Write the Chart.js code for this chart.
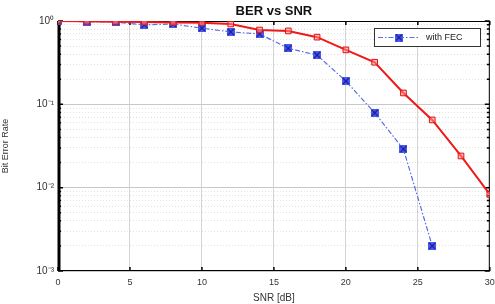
<!DOCTYPE html>
<html>
<head>
<meta charset="utf-8">
<script src="https://cdn.jsdelivr.net/npm/chart.js@4"></script>
<style>
  html, body { margin: 0; padding: 0; background: #fff; }
  #wrap { width: 495px; height: 304px; }
</style>
</head>
<body>
<div id="wrap"><canvas id="berChart"></canvas></div>
<script>
// data
var chartTitle = 'BER vs SNR';
var snrValues = [0, 2, 4, 6, 8, 10, 12, 14, 16, 18, 20, 22, 24, 26, 28, 30];
var berNoFec = [1.0, 0.99, 0.98, 0.97, 0.96, 0.95, 0.92, 0.78, 0.76, 0.64, 0.45, 0.32, 0.137, 0.065, 0.024, 0.0083];
var berFec = [1.0, 0.98, 0.97, 0.9, 0.92, 0.82, 0.74, 0.70, 0.47, 0.39, 0.19, 0.079, 0.029, 0.002, null, null];
var xTicks = [0, 5, 10, 15, 20, 25, 30];
var yDecades = [-3, -2, -1, 0];

var sup = {'-': '\u207B', '0': '\u2070', '1': '\u00B9', '2': '\u00B2', '3': '\u00B3'};
toSup = (n) => String(n).split('').map(c => sup[c]).join('');
var fontFam = '"Liberation Sans", Arial, sans-serif';

//point icon for the blue series: square with an x
var fecIcon = document.createElement('canvas');
fecIcon.width = 8; fecIcon.height = 8;
var ic = fecIcon.getContext('2d');
ic.fillStyle = '#4a5cf0';
ic.fillRect(0, 0, 8, 8);
ic.strokeStyle = '#1a1a9a';
ic.lineWidth = 1.2;
ic.beginPath();
ic.moveTo(1, 1); ic.lineTo(7, 7);
ic.moveTo(7, 1); ic.lineTo(1, 7);
ic.stroke();

function pts(arr) {
  var out = [];
  for (var i = 0; i < snrValues.length; i++) {
    if (arr[i] != null) out.push({x: snrValues[i], y: arr[i]});
  }
  return out;
}

var isDecade = (v) => Math.abs(Math.log10(v) - Math.round(Math.log10(v))) < 1e-6;

// frame + inward ticks under the lines, title + legend box on top
var framePlugin = {
  id: 'frame',
  beforeDatasetsDraw(chart) {
    var a = chart.chartArea, c = chart.ctx;
    var xs = chart.scales.x, ys = chart.scales.y;
    c.save();
    c.strokeStyle = '#000';
    c.lineWidth = 1;
    c.strokeRect(a.left + 0.5, a.top + 0.5, a.right - a.left - 1, a.bottom - a.top - 1);
    c.lineWidth = 3;
    c.beginPath();
    c.moveTo(a.left + 1, a.top); c.lineTo(a.left + 1, a.bottom);
    c.stroke();
    c.lineWidth = 1.5;
    c.beginPath();
    xTicks.forEach(t => {
      var px = xs.getPixelForValue(t);
      c.moveTo(px, a.bottom); c.lineTo(px, a.bottom - 4);
      c.moveTo(px, a.top); c.lineTo(px, a.top + 4);
    });
    ys.ticks.forEach(t => {
      var py = ys.getPixelForValue(t.value);
      var len = isDecade(t.value) ? 5 : 3;
      c.moveTo(a.left, py); c.lineTo(a.left + len, py);
      c.moveTo(a.right, py); c.lineTo(a.right - len, py);
    });
    c.stroke();
    c.restore();
  },
  afterDraw(chart) {
    var a = chart.chartArea, c = chart.ctx;
    c.save();
    // title centred over the plot area
    c.fillStyle = '#111';
    c.font = 'bold 13px ' + fontFam;
    c.textAlign = 'center';
    c.textBaseline = 'middle';
    c.fillText(chartTitle, (a.left + a.right) / 2, a.top - 10);

    // legend inside the plot, top right
    var ds = chart.data.datasets[1];
    var bx = 374, by = 28, bw = 106, bh = 18;
    c.fillStyle = '#fff';
    c.fillRect(bx, by, bw, bh);
    c.strokeStyle = '#333';
    c.lineWidth = 1;
    c.strokeRect(bx + 0.5, by + 0.5, bw, bh);
    c.strokeStyle = ds.borderColor;
    c.setLineDash(ds.borderDash);
    c.beginPath();
    c.moveTo(bx + 4, by + bh / 2 + 0.5); c.lineTo(bx + 46, by + bh / 2 + 0.5);
    c.stroke();
    c.setLineDash([]);
    c.drawImage(fecIcon, bx + 21, by + bh / 2 - 3.5);
    c.fillStyle = '#222';
    c.font = '9px ' + fontFam;
    c.textAlign = 'left';
    c.fillText(ds.label, bx + 52, by + bh / 2 + 1);
    c.restore();
  }
};

var ctx = document.getElementById('berChart').getContext('2d');
var berChart = new Chart(ctx, {
  type: 'line',
  data: {
    datasets: [{
      label: 'without FEC',
      data: pts(berNoFec),
      borderColor: '#f01818',
      borderWidth: 2,
      backgroundColor: 'rgba(255,140,140,0.55)',
      pointStyle: 'rect',
      pointRadius: 4,
      pointBorderWidth: 1,
      pointBorderColor: '#e01010',
      tension: 0
    }, {
      label: 'with FEC',
      data: pts(berFec),
      borderColor: '#5a6ee0',
      borderWidth: 1.2,
      borderDash: [5, 2, 1.5, 2],
      backgroundColor: '#4a5cf0',
      pointStyle: fecIcon,
      tension: 0
    }]
  },
  options: {
    responsive: true,
    maintainAspectRatio: false,
    animation: false,
    devicePixelRatio: 1,
    layout: { padding: { left: 0, right: 4, top: 21, bottom: 0 } },
    plugins: {
      legend: { display: false },
      tooltip: { enabled: false },
      title: { display: false }
    },
    scales: {
      x: {
        type: 'linear',
        min: 0,
        max: 30,
        afterBuildTicks: (scale) => { scale.ticks = xTicks.map(v => ({value: v})); },
        afterFit: (scale) => {
          scale.height = 33;
          scale.paddingLeft = 0;
          scale.paddingRight = 0;
        },
        ticks: {
          color: '#333',
          padding: 6,
          maxRotation: 0,
          font: { family: fontFam, size: 9 }
        },
        grid: { color: '#d4d4d4', tickLength: 0, lineWidth: 1 },
        border: { display: false },
        title: {
          display: true,
          text: 'SNR [dB]',
          color: '#333',
          padding: { top: 1, bottom: 0 },
          font: { family: fontFam, size: 10 }
        }
      },
      y: {
        type: 'logarithmic',
        min: 0.001,
        max: 1,
        afterBuildTicks: (scale) => {
          var t = [];
          yDecades.forEach(d => {
            for (var m = 1; m <= 9; m++) {
              if (d === 0 && m > 1) break;
              t.push({value: m * Math.pow(10, d)});
            }
          });
          scale.ticks = t;
        },
        afterFit: (scale) => {
          scale.width = 58;
          scale.paddingTop = 0;
          scale.paddingBottom = 0;
        },
        ticks: {
          autoSkip: false,
          color: '#333',
          padding: 4,
          font: { family: fontFam, size: 10 },
          callback: (v) => isDecade(v) ? '10' + toSup(Math.round(Math.log10(v))) : ''
        },
        grid: {
          tickLength: 0,
          lineWidth: 1,
          color: (c) => (c.tick && isDecade(c.tick.value)) ? '#c8c8c8' : '#e2e2e2'
        },
        border: {
          display: false,
          dash: (c) => (c.tick && !isDecade(c.tick.value)) ? [1, 2] : []
        },
        title: {
          display: true,
          text: 'Bit Error Rate',
          color: '#333',
          padding: { top: 0, bottom: 4 },
          font: { family: fontFam, size: 9 }
        }
      }
    }
  },
  plugins: [framePlugin]
});
</script>
</body>
</html>
